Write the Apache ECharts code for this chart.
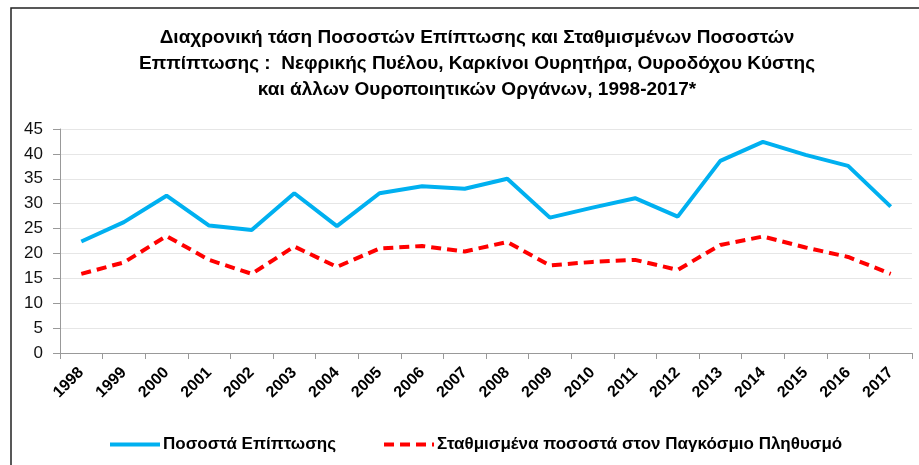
<!DOCTYPE html>
<html>
<head>
<meta charset="utf-8">
<script src="https://cdn.jsdelivr.net/npm/echarts@6/dist/echarts.min.js"></script>
<style>
  html, body { margin: 0; padding: 0; background: #fff; }
  #chart { width: 919px; height: 465px; }
</style>
</head>
<body>
<div id="chart"></div>
<script>
var years = ['1998', '1999', '2000', '2001', '2002', '2003', '2004', '2005', '2006', '2007',
             '2008', '2009', '2010', '2011', '2012', '2013', '2014', '2015', '2016', '2017']
var incidence = [22.4, 26.3, 31.6, 25.6, 24.7, 32.1, 25.5, 32.1, 33.5, 33.0,
                 35.0, 27.2, 29.2, 31.1, 27.4, 38.6, 42.4, 39.8, 37.6, 29.4]
var standardized = [15.9, 18.2, 23.5, 18.7, 15.9, 21.4, 17.3, 21.0, 21.5, 20.4,
                    22.3, 17.6, 18.3, 18.7, 16.7, 21.7, 23.4, 21.2, 19.3, 15.9]
var seriesNames = ['Ποσοστά Επίπτωσης', 'Σταθμισμένα ποσοστά στον Παγκόσμιο Πληθυσμό']
var titleText = 'Διαχρονική τάση Ποσοστών Επίπτωσης και Σταθμισμένων Ποσοστών\n' +
    'Εππίπτωσης :  Νεφρικής Πυέλου, Καρκίνοι Ουρητήρα, Ουροδόχου Κύστης\n' +
    'και άλλων Ουροποιητικών Οργάνων, 1998-2017*'

var font = 'Liberation Sans'
var blue = '#00B0F0'
var red = '#FF0000'
var dash = [10, 6]

var myChart = echarts.init(document.getElementById('chart'))
var option = {
    animation: false,
    textStyle: { fontFamily: font },
    title: {
        text: titleText,
        left: 472,
        textAlign: 'center',
        top: 20,
        textStyle: {
            fontSize: 19,
            fontWeight: 'bold',
            color: '#000',
            lineHeight: 26,
            fontFamily: font
        }
    },
    graphic: [{
        type: 'rect',
        shape: { x: 11, y: 8, width: 930, height: 480 },
        style: { fill: 'none', stroke: '#222', lineWidth: 1.5 },
        silent: true
    }],
    legend: {
        left: 103,
        top: 431,
        itemWidth: 50,
        itemHeight: 18,
        itemGap: 46,
        itemStyle: { opacity: 0 },
        textStyle: { fontSize: 17, fontWeight: 'bold', color: '#000', fontFamily: font, padding: [0, 0, 0, -2] },
        data: [
            { name: seriesNames[0], lineStyle: { color: blue, width: 4, type: 'solid' } },
            { name: seriesNames[1], lineStyle: { color: red, width: 4, type: dash } }
        ]
    },
    grid: {
        left: 60,
        right: 7,
        top: 129,
        bottom: 112
    },
    xAxis: {
        type: 'category',
        data: years,
        boundaryGap: true,
        axisLine: { lineStyle: { color: '#999', width: 1 } },
        axisTick: { show: true, length: 6, lineStyle: { color: '#999' } },
        axisLabel: {
            rotate: 45,
            fontSize: 16,
            fontWeight: 'bold',
            color: '#000',
            margin: 17,
            interval: 0
        }
    },
    yAxis: {
        type: 'value',
        min: 0,
        max: 45,
        interval: 5,
        axisLine: { show: true, lineStyle: { color: '#999', width: 1 } },
        axisTick: { show: true, length: 7, lineStyle: { color: '#999' } },
        axisLabel: { fontSize: 17, color: '#111', margin: 17 },
        splitLine: { lineStyle: { color: '#e6e6e6', width: 1 } }
    },
    series: [
        {
            name: seriesNames[0],
            type: 'line',
            data: incidence,
            symbol: 'none',
            lineStyle: { color: blue, width: 4 },
            itemStyle: { color: blue }
        },
        {
            name: seriesNames[1],
            type: 'line',
            data: standardized,
            symbol: 'none',
            lineStyle: { color: red, width: 4, type: dash },
            itemStyle: { color: red }
        }
    ]
}
myChart.setOption(option, true)
</script>
</body>
</html>
